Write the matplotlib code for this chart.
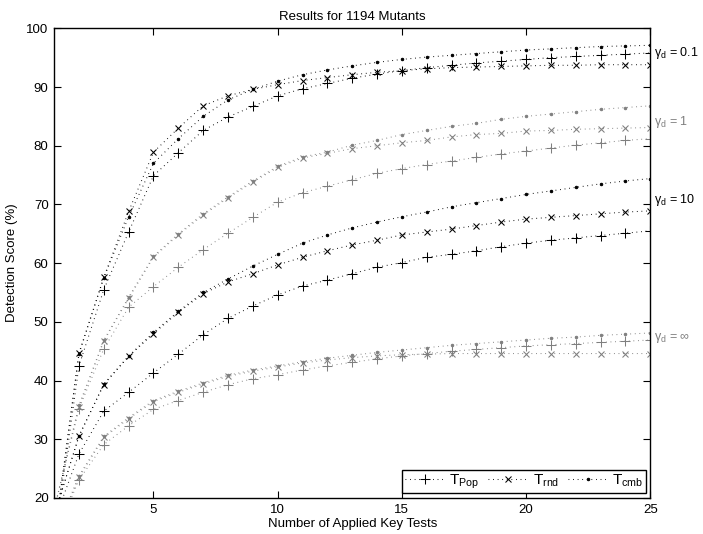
import matplotlib
matplotlib.use("Agg")
import matplotlib.pyplot as plt
from matplotlib.lines import Line2D
import numpy as np

plt.rcParams['font.family'] = ['Liberation Sans', 'DejaVu Sans']
plt.rcParams['mathtext.fontset'] = 'custom'
plt.rcParams['mathtext.rm'] = 'Liberation Sans'
plt.rcParams['mathtext.it'] = 'Liberation Sans:italic'

# ---------------- data ----------------
tests = list(range(2, 26))  # number of applied key tests (marker positions)
line_start_x = 1            # fitted curves begin at x = 1

# gamma_d = 0.1
g01_pop = [42.5, 55.5, 65.3, 74.9, 78.8, 82.6, 84.9, 86.7, 88.5, 89.7, 90.6, 91.5,
           92.2, 92.8, 93.3, 93.7, 94.1, 94.4, 94.7, 95.0, 95.2, 95.4, 95.6, 95.8]
g01_rnd = [44.7, 57.6, 68.8, 78.9, 83.0, 86.8, 88.5, 89.6, 90.4, 91.1, 91.6, 92.1,
           92.5, 92.8, 93.1, 93.3, 93.4, 93.5, 93.6, 93.7, 93.7, 93.8, 93.8, 93.8]
g01_cmb = [44.5, 57.5, 67.9, 77.0, 81.2, 85.0, 87.8, 89.6, 91.0, 92.1, 92.9, 93.6,
           94.2, 94.7, 95.1, 95.4, 95.7, 96.0, 96.3, 96.5, 96.7, 96.9, 97.0, 97.1]
# gamma_d = 1
g1_pop = [35.2, 45.4, 52.5, 56.0, 59.3, 62.3, 65.1, 67.8, 70.4, 72.0, 73.1, 74.2,
          75.3, 76.1, 76.8, 77.4, 78.0, 78.6, 79.1, 79.6, 80.1, 80.5, 80.9, 81.2]
g1_rnd = [35.5, 46.7, 54.0, 61.0, 64.8, 68.2, 71.1, 73.8, 76.3, 77.9, 78.7, 79.5,
          80.0, 80.5, 80.9, 81.5, 81.9, 82.1, 82.5, 82.6, 82.8, 82.9, 83.0, 83.1]
g1_cmb = [35.8, 46.9, 54.2, 61.2, 65.0, 68.4, 71.3, 74.0, 76.5, 78.1, 78.9, 80.1,
          80.9, 81.9, 82.6, 83.3, 83.8, 84.5, 85.0, 85.4, 85.8, 86.2, 86.5, 86.8]
# gamma_d = 10
g10_pop = [27.5, 34.8, 38.0, 41.3, 44.5, 47.8, 50.6, 52.7, 54.6, 56.1, 57.1, 58.2,
           59.3, 60.1, 61.0, 61.5, 62.1, 62.8, 63.4, 63.9, 64.3, 64.7, 65.1, 65.5]
g10_rnd = [30.5, 39.3, 44.1, 48.0, 51.6, 54.8, 56.8, 58.2, 59.7, 61.0, 62.1, 63.1,
           63.9, 64.8, 65.3, 65.8, 66.4, 67.0, 67.5, 67.8, 68.1, 68.4, 68.7, 68.9]
g10_cmb = [30.6, 39.4, 44.2, 48.2, 51.8, 55.0, 57.3, 59.5, 61.5, 63.4, 64.8, 66.0,
           67.0, 67.9, 68.7, 69.6, 70.3, 71.0, 71.7, 72.3, 72.9, 73.5, 74.0, 74.4]
# gamma_d = infinity
ginf_pop = [23.1, 29.1, 32.3, 35.1, 36.6, 38.0, 39.3, 40.3, 41.0, 41.8, 42.5, 43.1,
            43.7, 44.2, 44.6, 45.0, 45.3, 45.6, 45.9, 46.1, 46.3, 46.5, 46.7, 46.9]
ginf_rnd = [23.5, 30.3, 33.5, 36.4, 38.0, 39.4, 40.7, 41.6, 42.3, 43.0, 43.5, 43.9,
            44.2, 44.4, 44.5, 44.6, 44.6, 44.6, 44.6, 44.6, 44.6, 44.6, 44.6, 44.6]
ginf_cmb = [23.8, 30.5, 33.7, 36.6, 38.2, 39.6, 40.9, 41.8, 42.5, 43.2, 43.8, 44.3,
            44.8, 45.2, 45.6, 46.0, 46.3, 46.6, 46.9, 47.2, 47.4, 47.7, 47.9, 48.1]

# estimated value of each fitted curve at x = 1 (below the visible range)
g01_start = [12.0, 13.0, 13.0]
g1_start = [18.0, 18.0, 18.0]
g10_start = [16.0, 17.0, 17.0]
ginf_start = [13.0, 13.5, 13.5]

gamma_labels = ['0.1', '1', '10', '\u221e']
strategy_labels = [r'T$_{\rm Pop}$', r'T$_{\rm rnd}$', r'T$_{\rm cmb}$']

groups = [
    ([g01_pop, g01_rnd, g01_cmb], g01_start),
    ([g1_pop, g1_rnd, g1_cmb], g1_start),
    ([g10_pop, g10_rnd, g10_cmb], g10_start),
    ([ginf_pop, ginf_rnd, ginf_cmb], ginf_start),
]

# ---------------- style ----------------
BLACK = '#000000'
GRAY = '#7f7f7f'
group_colors = [BLACK, GRAY, BLACK, GRAY]
markers = ['+', 'x', '.']
msizes = [7.5, 5.0, 3.5]
dotted = (0, (0.8, 3.6))
LW = 0.75

fig = plt.figure(figsize=(7.03, 5.34), dpi=100)
ax = fig.add_axes([0.077, 0.0675, 0.848, 0.8795])

x_arr = np.array(tests)
for (series, starts), col in zip(groups, group_colors):
    for vals, st, mk, ms in zip(series, starts, markers, msizes):
        lx = np.concatenate([[line_start_x], x_arr])
        ly = np.concatenate([[st], np.array(vals)])
        ax.plot(lx, ly, linestyle=dotted, color=col, linewidth=LW)
        ax.plot(x_arr, vals, linestyle='none', marker=mk, markersize=ms,
                markeredgewidth=0.75, color=col)

ax.set_xlim(1, 25)
ax.set_ylim(20, 100)
ax.set_xticks([5, 10, 15, 20, 25])
ax.set_yticks(np.arange(20, 101, 10))
ax.tick_params(direction='in', length=5, width=0.8, top=True, right=True,
               labelsize=9.5, pad=4)
for s in ax.spines.values():
    s.set_linewidth(1.0)

ax.set_title('Results for 1194 Mutants', fontsize=9.5, pad=6)
ax.set_xlabel('Number of Applied Key Tests', fontsize=9.5, labelpad=2)
ax.set_ylabel('Detection Score (%)', fontsize=9.5, labelpad=6)

# right-hand gamma labels
label_y = [95.8, 84.0, 70.8, 47.3]
for g, yv, col in zip(gamma_labels, label_y, group_colors):
    ax.annotate('\u03b3$_{\\rm d}$ = ' + g, xy=(25, yv), xycoords='data',
                xytext=(2.5, 0), textcoords='offset points', va='center', ha='left',
                fontsize=9, color=col, annotation_clip=False)

handles = [Line2D([], [], linestyle=dotted, color=BLACK, linewidth=LW, marker=mk,
                  markersize=ms, markeredgewidth=0.75)
           for mk, ms in zip(markers, msizes)]
leg = ax.legend(handles, strategy_labels, loc='lower right', ncol=3, fontsize=11,
                frameon=True, fancybox=False, edgecolor='black', framealpha=1,
                borderaxespad=0.3, handlelength=2.6, handletextpad=0.3,
                columnspacing=0.6, borderpad=0.15)
leg.get_frame().set_linewidth(1.0)

fig.savefig('out.png', dpi=100)
